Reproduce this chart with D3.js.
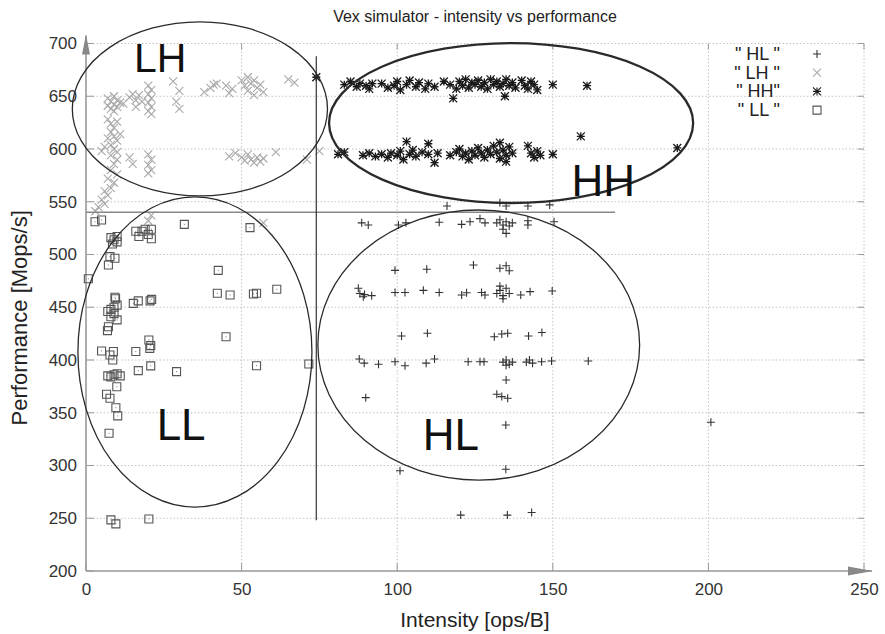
<!DOCTYPE html>
<html>
<head>
<meta charset="utf-8">
<script src="https://cdn.jsdelivr.net/npm/d3@7/dist/d3.min.js"></script>
<style>
  body { margin: 0; background: #fff; }
  text { font-family: "Liberation Sans", Arial, sans-serif; }
</style>
</head>
<body>
<div id="chart"></div>
<script>
// axis ticks
const xTicks = [0, 50, 100, 150, 200, 250];
const yTicks = [200, 250, 300, 350, 400, 450, 500, 550, 600, 650, 700];

// series: [intensity, performance]
const hlPoints = [
  [116, 546], [133, 549], [135, 546], [142, 546], [149, 547],
  [88.6, 530], [90.7, 528], [100.4, 528], [102.8, 530], [113.5, 530.5], [120.7, 528.6], [123.4, 531],
  [126.6, 534], [128.2, 530], [132, 530], [133, 533], [134, 528], [135, 531], [136, 527], [134, 524],
  [135, 520], [137, 530], [142, 532], [142, 528], [150.4, 531],
  [99.3, 485], [109.5, 486], [124.5, 490], [133, 487], [135, 489.4], [136, 484.6],
  [87.5, 468], [88, 463], [89.5, 462], [91.8, 461], [89.1, 460], [99.3, 464], [102.5, 464], [108.4, 466],
  [113.5, 464], [120.7, 461.6], [122.3, 463.8], [127.1, 464], [128.2, 461.6], [132, 463], [133, 466],
  [134, 461], [135, 468], [136, 463], [134, 458], [133, 470], [139.7, 461.6], [142.7, 464.8], [149.8, 465.4],
  [101.4, 422.7], [109.7, 425.4], [131.2, 422], [133.6, 424.6], [135.5, 425.3], [142.2, 422.7], [146.5, 426],
  [87.8, 401], [89.4, 397], [94, 396], [99.3, 398.4], [102.5, 394.6], [109.3, 397], [112, 401], [122.8, 398.4],
  [126.6, 398.4], [127.9, 398.4], [134, 398], [135, 400], [136, 396], [137, 398], [135, 395],
  [141.5, 398], [142.5, 400], [143.5, 397], [146.4, 398.4], [149.6, 399], [161.4, 399],
  [135, 381], [132, 367.5], [133.6, 365.3], [135.5, 363.7], [89.9, 364.3], [134.9, 338.4],
  [134.9, 296.4], [100.9, 295], [120.4, 253], [135.4, 253], [143.2, 255.5], [200.8, 341]
];

const lhPoints = [
  [7, 648], [8, 645], [9, 642], [10, 646], [8, 638], [9, 650], [10, 640], [11, 644], [7, 641], [9, 636],
  [7, 628], [8, 624], [9, 620], [10, 626], [8, 616], [9, 612], [10, 608], [7, 610], [8, 604], [9, 600],
  [10, 597], [6, 602], [11, 614], [5, 598], [8, 594], [10, 590],
  [9, 586], [8, 580], [10, 576], [7, 572], [9, 568], [8, 563], [6, 560], [7, 556], [5, 552], [6, 548],
  [4, 545], [3, 541],
  [12, 643], [14, 649], [15, 652], [16, 646], [17, 651], [16, 640], [18, 645],
  [20, 660], [21, 656], [20, 652], [21, 648], [20, 644], [21, 640], [20, 636], [21, 633],
  [14, 592], [15, 586], [20, 595], [21, 590], [20, 585], [21, 580], [20, 577],
  [28, 664], [30, 655], [29, 645], [30, 638],
  [38, 654], [40, 658], [41, 661], [42, 662], [45, 660], [46, 653], [47, 657],
  [50, 665], [51, 660], [52, 655], [53, 662], [54, 651], [55, 658], [56, 661], [57, 654], [52, 668], [54, 665],
  [65, 666], [67, 663],
  [46, 593], [48, 596], [50, 592], [51, 589], [52, 595], [53, 590], [54, 587], [55, 592], [56, 588], [57, 591],
  [61, 597], [71, 590], [75, 598], [21, 537], [20, 532], [57, 530]
];

const hhPoints = [
  [74, 668], [83, 661], [85, 664], [87, 659], [88, 662], [90, 660], [91, 657], [92, 662],
  [95, 662], [97, 658], [99, 660], [100, 664], [101, 656], [103, 661], [104, 665], [106, 659], [107, 663],
  [109, 657], [110, 662], [112, 659], [115, 664], [117, 661], [118, 648], [119, 657], [120, 664], [121, 660],
  [122, 666], [123, 658], [124, 663], [125, 661], [126, 665], [127, 659], [128, 663], [129, 657], [130, 666],
  [131, 661], [132, 664], [133, 659], [134, 662], [134.6, 650], [135, 666], [136, 660], [137, 663], [138, 658],
  [140, 665], [141, 660], [142, 657], [143, 664], [144, 661], [145, 656], [150, 661], [161, 660],
  [81, 595], [83, 597], [89, 594], [91, 596], [93, 593], [95, 595], [97, 592], [98, 596], [100, 594],
  [101, 598], [102, 590], [103, 607], [104, 595], [105, 599], [106, 593], [108, 597], [110, 605], [110, 595],
  [112, 587], [113, 596], [117, 594], [119, 597], [120, 600], [121, 593], [122, 596], [123, 590], [124, 598],
  [125, 594], [126, 601], [127, 596], [128, 592], [129, 599], [130, 595], [131, 603], [132, 597], [133, 591],
  [133, 606], [134, 599], [135, 594], [135, 588], [136, 602], [137, 596], [142, 603], [143, 596], [144, 592],
  [145, 598], [146, 594], [150, 595], [159, 612], [190, 601]
];

const llPoints = [
  [2.9, 531], [5, 532.7], [8, 516], [9, 514], [10, 512], [8.5, 510], [10, 517], [7.2, 490], [9.3, 496.4],
  [7.7, 498], [16, 522], [17, 517], [18, 522], [19, 524], [21, 524], [21, 515], [20, 519], [31.6, 528.6],
  [52.7, 525.5], [0.75, 477], [42.5, 485], [42.2, 463.2], [46.3, 461.6], [53.8, 462.6], [54.8, 463.2],
  [61.3, 467], [15.2, 453.7], [16.8, 456], [20.6, 456], [21.1, 457.5],
  [7, 446], [8, 448], [9, 450], [10, 452], [9.5, 458], [8, 441], [9, 444], [10, 438], [9.3, 459.5],
  [7.2, 431.5], [6.9, 427.8], [45, 422], [5, 408.6], [8.8, 408], [7.7, 404.7], [8.6, 400], [16, 408],
  [20.2, 419], [20.8, 413.6], [20.5, 411], [16.8, 389.9], [20.8, 394.4], [29.1, 389], [54.8, 394.6],
  [71.6, 396.2], [7, 385], [8, 384], [9, 386], [10, 387], [11, 385], [9.9, 374.7],
  [6.6, 367.5], [7.7, 363.7], [9.6, 354.8], [10.2, 347], [7.4, 330.5], [8, 248.5], [9.6, 244.7], [20.2, 249.3]
];

// hand-drawn annotations, in data units
const regionNames = ["LH", "HH", "LL", "HL"];
const regionCenters = [[36.6, 638], [136.6, 624.6], [35, 407.6], [126.2, 414.2]];
const regionRadii = [[41, 82.5], [58.5, 75.8], [37.6, 147], [51.7, 128]];
const regionLabelAt = [[15.4, 673.3], [156, 555], [22.7, 324.2], [108.2, 314.7]];
const thresholdX = [74, 248, 688];   // x, yFrom, yTo
const thresholdY = [540, 0, 170];    // y, xFrom, xTo

const legendNames = ['" HL "', '" LH "', '" HH"', '" LL "'];

const width = 885, height = 634;
const margin = {top: 43.5, right: 21, bottom: 63, left: 86};

const svg = d3.select('#chart').append('svg')
  .attr('width', width)
  .attr('height', height);

const x = d3.scaleLinear().domain([0, 250]).range([margin.left, width - margin.right]);
const y = d3.scaleLinear().domain([200, 700]).range([height - margin.bottom, margin.top]);

const axisColor = '#999';

// title
svg.append('text')
  .attr('x', (x(0) + x(250)) / 2)
  .attr('y', 22)
  .attr('text-anchor', 'middle')
  .style('font-size', '16px')
  .style('fill', '#222')
  .text('Vex simulator - intensity vs performance');

// grid
svg.append('g')
  .selectAll('line')
  .data(xTicks.slice(1))
  .join('line')
  .attr('x1', d => x(d)).attr('x2', d => x(d))
  .attr('y1', y(200)).attr('y2', y(700))
  .attr('stroke', '#c4c4c4')
  .attr('stroke-dasharray', '1.5,2');

svg.append('g')
  .selectAll('line')
  .data(yTicks.slice(1))
  .join('line')
  .attr('x1', x(0)).attr('x2', x(250))
  .attr('y1', d => y(d)).attr('y2', d => y(d))
  .attr('stroke', '#c4c4c4')
  .attr('stroke-dasharray', '1.5,2');

// bottom axis
svg.append('g')
  .attr('transform', 'translate(0,' + y(200) + ')')
  .call(d3.axisBottom(x).tickValues(xTicks).tickSize(0).tickPadding(12))
  .call(g => g.select('.domain').remove())
  .call(g => g.selectAll('.tick text')
    .style('font-size', '17px')
    .attr('fill', '#333')
    .style('font-family', '"Liberation Sans", Arial, sans-serif'));

// left axis
svg.append('g')
  .attr('transform', 'translate(' + x(0) + ',0)')
  .call(d3.axisLeft(y).tickValues(yTicks).tickSize(0).tickPadding(9))
  .call(g => g.select('.domain').remove())
  .call(g => g.selectAll('.tick text')
    .style('font-size', '17px')
    .attr('fill', '#333')
    .style('font-family', '"Liberation Sans", Arial, sans-serif'));

// small inward ticks, with mirrors on top and right
const ticks = svg.append('g').attr('stroke', axisColor).attr('stroke-width', 1);
ticks.selectAll('.tb').data(xTicks).join('line')
  .attr('x1', d => x(d)).attr('x2', d => x(d))
  .attr('y1', y(200)).attr('y2', y(200) - 8);
ticks.selectAll('.tt').data(xTicks).join('line')
  .attr('x1', d => x(d)).attr('x2', d => x(d))
  .attr('y1', y(700)).attr('y2', y(700) + 6);
ticks.selectAll('.tl').data(yTicks).join('line')
  .attr('x1', x(0)).attr('x2', x(0) + 8)
  .attr('y1', d => y(d)).attr('y2', d => y(d));
ticks.selectAll('.tr').data(yTicks).join('line')
  .attr('x1', x(250)).attr('x2', x(250) - 6)
  .attr('y1', d => y(d)).attr('y2', d => y(d));

// axis lines with arrow heads
svg.append('line')
  .attr('x1', x(0)).attr('x2', x(250) + 8)
  .attr('y1', y(200)).attr('y2', y(200))
  .attr('stroke', axisColor).attr('stroke-width', 1.6);
svg.append('line')
  .attr('x1', x(0)).attr('x2', x(0))
  .attr('y1', y(200)).attr('y2', y(700) - 8)
  .attr('stroke', axisColor).attr('stroke-width', 1.6);
svg.append('path')
  .attr('d', d3.line()([[x(250) - 16, y(200) - 4.5], [x(250) + 9, y(200)], [x(250) - 16, y(200) + 4.5]]))
  .attr('fill', '#888');
svg.append('path')
  .attr('d', d3.line()([[x(0) - 4, y(700) + 11], [x(0), y(700) - 9], [x(0) + 4, y(700) + 11]]))
  .attr('fill', '#888');

// axis titles
svg.append('text')
  .attr('x', (x(0) + x(250)) / 2)
  .attr('y', 627)
  .attr('text-anchor', 'middle')
  .style('font-size', '21px')
  .style('fill', '#222')
  .text('Intensity [ops/B]');

svg.append('text')
  .attr('transform', 'translate(27,' + y(440) + ') rotate(-90)')
  .attr('text-anchor', 'middle')
  .style('font-size', '22px')
  .style('fill', '#222')
  .text('Performance [Mops/s]');

// point symbols
const s = 4;
const symbolPaths = [
  'M' + -s + ',0H' + s + 'M0,' + -s + 'V' + s,
  'M' + -s + ',' + -s + 'L' + s + ',' + s + 'M' + -s + ',' + s + 'L' + s + ',' + -s,
  'M' + -s + ',0H' + s + 'M0,' + -s + 'V' + s + 'M' + -s + ',' + -s + 'L' + s + ',' + s + 'M' + -s + ',' + s + 'L' + s + ',' + -s,
  'M' + -s + ',' + -s + 'H' + s + 'V' + s + 'H' + -s + 'Z'
];
const symbolColors = ['#333', '#a9a9a9', '#1a1a1a', '#555'];
const series = [hlPoints, lhPoints, hhPoints, llPoints];

const plot = svg.append('g');
series.forEach((pts, i) => {
  plot.append('g')
    .selectAll('path')
    .data(pts)
    .join('path')
    .attr('transform', d => 'translate(' + x(d[0]) + ',' + y(d[1]) + ')')
    .attr('d', symbolPaths[i])
    .attr('fill', 'none')
    .attr('stroke', symbolColors[i])
    .attr('stroke-width', i === 2 ? 1.3 : 1.1);
});
// tiny dot inside the boxes
plot.append('g')
  .selectAll('rect')
  .data(llPoints)
  .join('rect')
  .attr('x', d => x(d[0]) - 0.5)
  .attr('y', d => y(d[1]) - 0.5)
  .attr('width', 1).attr('height', 1)
  .attr('fill', '#777');

// legend
const legend = svg.append('g');
legendNames.forEach((name, i) => {
  const ly = 54 + i * 18.7;
  legend.append('text')
    .attr('x', 780)
    .attr('y', ly + 6)
    .attr('text-anchor', 'end')
    .style('font-size', '18px')
    .style('fill', '#222')
    .text(name);
  legend.append('path')
    .attr('transform', 'translate(817,' + ly + ')')
    .attr('d', symbolPaths[i])
    .attr('fill', 'none')
    .attr('stroke', symbolColors[i])
    .attr('stroke-width', 1.1);
});

// threshold lines
svg.append('line')
  .attr('x1', x(thresholdY[1])).attr('x2', x(thresholdY[2]))
  .attr('y1', y(thresholdY[0])).attr('y2', y(thresholdY[0]))
  .attr('stroke', '#888').attr('stroke-width', 1.6);
svg.append('line')
  .attr('x1', x(thresholdX[0])).attr('x2', x(thresholdX[0]))
  .attr('y1', y(thresholdX[1])).attr('y2', y(thresholdX[2]))
  .attr('stroke', '#333').attr('stroke-width', 1.2);

// region ellipses + labels
svg.append('g')
  .selectAll('ellipse')
  .data(regionNames)
  .join('ellipse')
  .attr('cx', (d, i) => x(regionCenters[i][0]))
  .attr('cy', (d, i) => y(regionCenters[i][1]))
  .attr('rx', (d, i) => x(regionRadii[i][0]) - x(0))
  .attr('ry', (d, i) => y(200) - y(200 + regionRadii[i][1]))
  .attr('fill', 'none')
  .attr('stroke', '#2a2a2a')
  .attr('stroke-width', d => d === 'HH' ? 2.3 : 1.3);

svg.append('g')
  .selectAll('text')
  .data(regionNames)
  .join('text')
  .attr('x', (d, i) => x(regionLabelAt[i][0]))
  .attr('y', (d, i) => y(regionLabelAt[i][1]))
  .style('font-size', d => d === 'LH' ? '41px' : '44px')
  .style('fill', '#111')
  .text(d => d);
</script>
</body>
</html>
